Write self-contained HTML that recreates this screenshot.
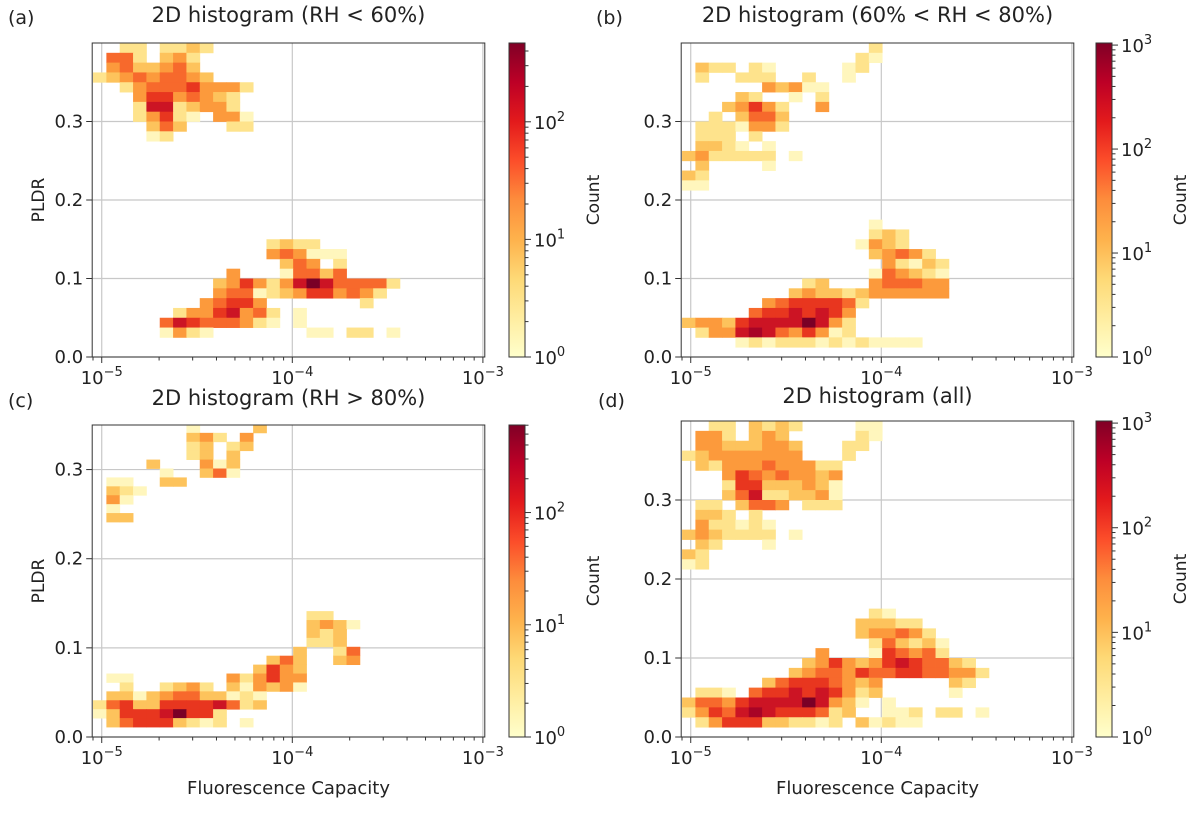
<!DOCTYPE html>
<html><head><meta charset="utf-8"><style>
body{margin:0;background:#fff}
svg{display:block;font-family:"DejaVu Sans","Liberation Sans",sans-serif}
</style></head><body>
<svg id="fig" width="1199" height="814" viewBox="0 0 1199 814">
<defs><linearGradient id="ylorrd" x1="0" y1="1" x2="0" y2="0">
<stop offset="0" stop-color="#ffffcc"/><stop offset="0.125" stop-color="#ffeda0"/><stop offset="0.25" stop-color="#fed976"/><stop offset="0.375" stop-color="#feb24c"/><stop offset="0.5" stop-color="#fd8d3c"/><stop offset="0.625" stop-color="#fc4e2a"/><stop offset="0.75" stop-color="#e31a1c"/><stop offset="0.875" stop-color="#bd0026"/><stop offset="1" stop-color="#800026"/>
</linearGradient></defs>
</svg>
<script>
// ---- data: each string is a row of bins (top to bottom), char = count level 1..9 ('.' = empty)
const panelARows=["..22.2232",".552.342",".4533453","234545543","..2455564442","...46645432","...27723442","...24621.441","....353...22","....12","","","","","","","","","","",".............2322",".............454111","..............354.2","..........4...15535",".........34642479755552",".........4551234664542","........45664.......2","......24467452.1",".....576555421.1",".....1421.......11.22.1","",""];
const panelBRows=["..............2",".............21",".322.21.....12",".2..222..2..1","......43411","....32..1.2","...34642..4","..2.3553",".2221442",".222.2",".3321.1","3422222.1",".3....1","32","11","","","","..............1","..............232",".............1432","..............34542","...............42132","..............154321",".........23...455544","........343323444444","......45666652",".....56676764","3443677779742",".244787546412","....12122212121111",""];
const panelCRows=[".......1....3",".......342.4",".......23.23",".......23.3","....3...413",".....1..351",".11..33",".321",".41",".1",".33","","","","","","","","","","","................22","................3431","................323","................223","...............3..25",".............353..34","............3643",".11.......424644","..2..2342.314341",".331345533121","2563366667523","1366679662",".356663212.1"];
const panelDRows=["..22.3232....11",".442.343.....21",".44333443...22","234444444...2",".32444544422","...465454434","...266333431","...357223341",".22.3554.222",".332.2",".422121","3432222.1",".32...1","32","12","","","","","..............21",".............33322",".............344542","..............253231","..........4...165452",".........3464346765532","........345546556655442","......356665434.....32",".221.5667676423.....1","35546777797431.1","2465787666523..112.22.1",".24666332212.31211",""];
// bins: x in log10 units, y in PLDR units
const xBinStart=[-5.0456,-5.0455,-5.0456,-5.0455];
const xBinWidth=[0.07,0.07,0.07,0.07];
const yBinTop=[0.4,0.4,0.3512,0.4];
const yBinHeight=[0.0125,0.0125,0.01,0.0125];
const cbarMaxLog=[2.67,3.02,2.78,3.02];
const yTicks=[0.0,0.1,0.2,0.3];
const yTickLabels=["0.0","0.1","0.2","0.3"];
const xTicksLog=[-5,-4,-3];
const titles=["2D histogram (RH < 60%)","2D histogram (60% < RH < 80%)","2D histogram (RH > 80%)","2D histogram (all)"];
const panelLetters=["(a)","(b)","(c)","(d)"];
const levelColors=["#fff6bd","#fee38c","#fdc35c","#fc9a3c","#f7692c","#e8361f","#cc1424","#a80426","#7a0026"];

const geo=[
 {L:92.2,R:484.8,T:43,B:357,ymax:0.4,cbX:509,tx:8,ty:22,titleY:22,xl:false,yl:true},
 {L:681.2,R:1073.8,T:43,B:357,ymax:0.4,cbX:1096,tx:596,ty:22,titleY:22,xl:false,yl:false},
 {L:92.2,R:484.8,T:425,B:737,ymax:0.35,cbX:509,tx:8,ty:405,titleY:405,xl:true,yl:true},
 {L:681.2,R:1073.8,T:421,B:737,ymax:0.4,cbX:1096,tx:598,ty:405,titleY:403,xl:true,yl:false}
];
const allRows=[panelARows,panelBRows,panelCRows,panelDRows];
const NS="http://www.w3.org/2000/svg";
const svg=document.getElementById('fig');
function mk(tag,attrs,parent,text){const e=document.createElementNS(NS,tag);for(const k in attrs)e.setAttribute(k,attrs[k]);if(text!==undefined)e.textContent=text;(parent||svg).appendChild(e);return e;}
function powLabel(parent,x,y,exp,anchor){
 const t=mk('text',{x:x,y:y,'font-size':18,fill:'#222','text-anchor':anchor},parent);
 const a=document.createElementNS(NS,'tspan');a.textContent='10';t.appendChild(a);
 const b=document.createElementNS(NS,'tspan');b.setAttribute('dy','-8');b.setAttribute('font-size','13');b.textContent=exp;t.appendChild(b);
 return t;
}
geo.forEach((g,p)=>{
 const xS=lg=>g.L+(lg+5.05)/2.06*(g.R-g.L);
 const yS=v=>g.B-v/g.ymax*(g.B-g.T);
 const grp=mk('g',{});
 
 
 const clipId='clip'+p;
 const cp=mk('clipPath',{id:clipId},grp);mk('rect',{x:g.L,y:g.T,width:g.R-g.L,height:g.B-g.T},cp);
 xTicksLog.forEach(v=>{const l=mk('line',{x1:xS(v),x2:xS(v),y1:g.T,y2:g.B,stroke:'#c8c8c8','stroke-width':1.2},grp);});
 yTicks.forEach(v=>{if(v>g.ymax)return;const l=mk('line',{x1:g.L,x2:g.R,y1:yS(v),y2:yS(v),stroke:'#c8c8c8','stroke-width':1.2},grp);});
 const cells=mk('g',{'clip-path':'url(#'+clipId+')'},grp);
 
 
 allRows[p].forEach((row,r)=>{
  const yTop=yBinTop[p]-yBinHeight[p]*r, yBot=yTop-yBinHeight[p];
  for(let c=0;c<row.length;c++){
   const ch=row[c]; if(ch==='.')continue;
   const lv=parseInt(ch,10);
   const x0=xS(xBinStart[p]+xBinWidth[p]*c), x1=xS(xBinStart[p]+xBinWidth[p]*(c+1));
   const rc=mk('rect',{x:x0,y:yS(yTop),width:x1-x0+0.4,height:yS(yBot)-yS(yTop)+0.4,fill:levelColors[lv-1]},cells);
   
   
  }
 });
 const fr=mk('rect',{x:g.L,y:g.T,width:g.R-g.L,height:g.B-g.T,fill:'none',stroke:'#333','stroke-width':1},grp);
 
 for(let d=-6;d<=-3;d++){for(let m=1;m<10;m++){const lg=d+Math.log10(m);if(lg<-5.05||lg>-2.99)continue;const len=m===1?6:3.5;mk('line',{x1:xS(lg),x2:xS(lg),y1:g.B,y2:g.B+len,stroke:'#333','stroke-width':1},grp);}}
 xTicksLog.forEach(v=>{const t=powLabel(grp,xS(v),g.B+27,'−'+(-v),'middle');});
 yTicks.forEach((v,i)=>{if(v>g.ymax)return;mk('line',{x1:g.L-6,x2:g.L,y1:yS(v),y2:yS(v),stroke:'#333'},grp);const t=mk('text',{x:g.L-9,y:yS(v)+6,'font-size':18,fill:'#222','text-anchor':'end'},grp,yTickLabels[i]);});
 const tt=mk('text',{x:(g.L+g.R)/2,y:g.titleY,'font-size':21,fill:'#222','text-anchor':'middle'},grp,titles[p]);
 
 const pl=mk('text',{x:g.tx,y:g.ty+2,'font-size':19,fill:'#222'},grp,panelLetters[p]);
 
 if(g.yl){const yl=mk('text',{x:0,y:0,'font-size':17,fill:'#222','text-anchor':'middle',transform:'translate(44,'+((g.T+g.B)/2)+') rotate(-90)'},grp,'PLDR');}
 if(g.xl){const xl=mk('text',{x:(g.L+g.R)/2,y:794,'font-size':18,fill:'#222','text-anchor':'middle'},grp,'Fluorescence Capacity');}
 const cbW=16, mx=cbarMaxLog[p];
 const cS=v=>g.B-v/mx*(g.B-g.T);
 const cb=mk('rect',{x:g.cbX,y:g.T,width:cbW,height:g.B-g.T,fill:'url(#ylorrd)',stroke:'#333','stroke-width':1},grp);
 
 for(let d=0;d<=3;d++){for(let m=1;m<10;m++){const v=d+Math.log10(m);if(v>mx)continue;const len=m===1?6:3.5;mk('line',{x1:g.cbX+cbW,x2:g.cbX+cbW+len,y1:cS(v),y2:cS(v),stroke:'#333'},grp);}
  if(d<=mx){const t=powLabel(grp,g.cbX+cbW+9,cS(d)+7,String(d),'start');}}
 const cl=mk('text',{x:0,y:0,'font-size':17,fill:'#222','text-anchor':'middle',transform:'translate('+(g.cbX+cbW+74)+','+((g.T+g.B)/2)+') rotate(-90)'},grp,'Count');
 
});
</script>
</body></html>
